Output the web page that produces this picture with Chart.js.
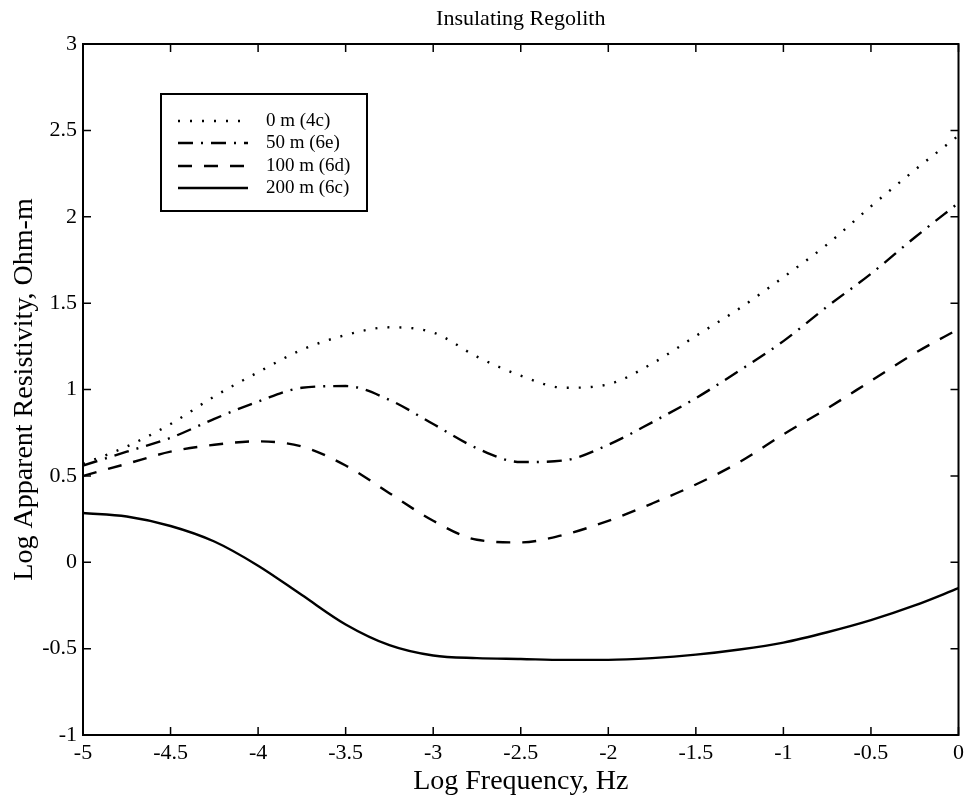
<!DOCTYPE html>
<html>
<head>
<meta charset="utf-8">
<script src="https://cdn.jsdelivr.net/npm/chart.js@4.4.1/dist/chart.umd.min.js"></script>
<style>
  html, body { margin: 0; padding: 0; background: #ffffff; }
  #wrap { width: 969px; height: 798px; }
</style>
</head>
<body>
<div id="wrap"><canvas id="regolithChart" width="969" height="798"></canvas></div>
<script>
// Log frequency samples (Hz, log10)
const logFreq = [-5, -4.75, -4.5, -4.25, -4, -3.75, -3.5, -3.25, -3, -2.75, -2.5,
                 -2.25, -2, -1.75, -1.5, -1.25, -1, -0.75, -0.5, -0.25, 0];

// Log apparent resistivity for each regolith thickness
const rho0m   = [0.57, 0.67, 0.80, 0.96, 1.10, 1.23, 1.315, 1.36, 1.33, 1.19, 1.08,
                 1.01, 1.03, 1.15, 1.31, 1.47, 1.65, 1.84, 2.06, 2.27, 2.47];
const rho50m  = [0.56, 0.64, 0.72, 0.83, 0.93, 1.01, 1.02, 0.94, 0.80, 0.66, 0.58,
                 0.59, 0.68, 0.81, 0.95, 1.11, 1.28, 1.48, 1.67, 1.88, 2.08];
const rho100m = [0.50, 0.57, 0.64, 0.68, 0.70, 0.67, 0.56, 0.40, 0.24, 0.13, 0.115,
                 0.16, 0.24, 0.34, 0.45, 0.58, 0.74, 0.89, 1.05, 1.21, 1.35];
const rho200m = [0.285, 0.265, 0.21, 0.12, -0.02, -0.19, -0.36, -0.48, -0.54, -0.555, -0.56,
                 -0.565, -0.565, -0.555, -0.535, -0.505, -0.465, -0.405, -0.335, -0.25, -0.15];

const seriesLabels = ['0 m (4c)', '50 m (6e)', '100 m (6d)', '200 m (6c)'];
const xTicks = [-5, -4.5, -4, -3.5, -3, -2.5, -2, -1.5, -1, -0.5, 0];
const yTicks = [-1, -0.5, 0, 0.5, 1, 1.5, 2, 2.5, 3];

const SERIF = "'Liberation Serif', 'Times New Roman', serif";

function toPoints(ys) {
    return logFreq.map((x, i) => ({ x: x, y: ys[i] }));
}

const lineStyles = [
    { dash: [2, 10] },        // dotted
    { dash: [15, 8, 2, 8] },  // dash-dot
    { dash: [14, 12] },       // dashed
    { dash: [] }              // solid
];

const allSeries = [rho0m, rho50m, rho100m, rho200m];

const datasets = allSeries.map((ys, i) => ({
    label: seriesLabels[i],
    data: toPoints(ys),
    borderColor: '#000000',
    backgroundColor: 'transparent',
    borderWidth: 2.4,
    borderDash: lineStyles[i].dash,
    borderCapStyle: 'butt',
    pointRadius: 0,
    cubicInterpolationMode: 'monotone',
    fill: false
}));

// Title, frame, inward ticks on all four sides, and the boxed legend
const framePlugin = {
    id: 'frame',
    afterDraw(chart) {
        const { ctx, chartArea: a, scales } = chart;
        const tick = 8;
        ctx.save();
        ctx.fillStyle = '#000000';
        ctx.font = '22px ' + SERIF;
        ctx.textAlign = 'center';
        ctx.textBaseline = 'middle';
        ctx.fillText('Insulating Regolith', (a.left + a.right) / 2, 19);

        ctx.strokeStyle = '#000000';
        ctx.lineWidth = 2;
        ctx.setLineDash([]);
        ctx.strokeRect(a.left, a.top, a.right - a.left, a.bottom - a.top);

        ctx.beginPath();
        ctx.lineWidth = 1.5;
        xTicks.forEach(v => {
            const px = scales.x.getPixelForValue(v);
            ctx.moveTo(px, a.bottom); ctx.lineTo(px, a.bottom - tick);
            ctx.moveTo(px, a.top);    ctx.lineTo(px, a.top + tick);
        });
        yTicks.forEach(v => {
            const py = scales.y.getPixelForValue(v);
            ctx.moveTo(a.left, py);  ctx.lineTo(a.left + tick, py);
            ctx.moveTo(a.right, py); ctx.lineTo(a.right - tick, py);
        });
        ctx.stroke();

        // legend
        const box = { x: 161, y: 94, w: 206, h: 117 };
        ctx.fillStyle = '#ffffff';
        ctx.fillRect(box.x, box.y, box.w, box.h);
        ctx.lineWidth = 2;
        ctx.strokeRect(box.x, box.y, box.w, box.h);
        ctx.font = '19px ' + SERIF;
        ctx.textBaseline = 'middle';
        ctx.textAlign = 'left';
        const rows = [121, 143, 166, 188];
        chart.data.datasets.forEach((ds, i) => {
            const y = rows[i];
            ctx.beginPath();
            ctx.setLineDash(ds.borderDash);
            ctx.lineWidth = 2.4;
            ctx.lineCap = 'butt';
            ctx.moveTo(178, y);
            ctx.lineTo(248, y);
            ctx.stroke();
            ctx.setLineDash([]);
            ctx.fillStyle = '#000000';
            ctx.fillText(ds.label, 266, y);
        });
        ctx.restore();
    }
};

new Chart(document.getElementById('regolithChart'), {
    type: 'line',
    data: { datasets: datasets },
    plugins: [framePlugin],
    options: {
        responsive: false,
        animation: false,
        devicePixelRatio: 1,
        layout: { padding: { top: 44, right: 9, left: 0, bottom: 0 } },
        plugins: {
            legend: { display: false },
            tooltip: { enabled: false },
            title: { display: false }
        },
        scales: {
            x: {
                type: 'linear',
                min: -5,
                max: 0,
                afterBuildTicks: s => { s.ticks = xTicks.map(v => ({ value: v })); },
                afterFit: s => { s.height = 63; },
                grid: { display: false, drawTicks: false },
                border: { display: false },
                ticks: {
                    color: '#000000',
                    padding: 5,
                    font: { family: SERIF, size: 22 },
                    maxRotation: 0,
                    callback: v => String(v)
                },
                title: {
                    display: true,
                    text: 'Log Frequency, Hz',
                    color: '#000000',
                    font: { family: SERIF, size: 28 },
                    padding: { top: 0, bottom: 0 }
                }
            },
            y: {
                type: 'linear',
                min: -1,
                max: 3,
                afterBuildTicks: s => { s.ticks = yTicks.map(v => ({ value: v })); },
                afterFit: s => { s.width = 83; },
                grid: { display: false, drawTicks: false },
                border: { display: false },
                ticks: {
                    color: '#000000',
                    padding: 6,
                    font: { family: SERIF, size: 22 },
                    callback: v => String(v)
                },
                title: {
                    display: true,
                    text: 'Log Apparent Resistivity, Ohm-m',
                    color: '#000000',
                    font: { family: SERIF, size: 28 },
                    padding: { top: 8, bottom: 0 }
                }
            }
        }
    }
});
</script>
</body>
</html>
